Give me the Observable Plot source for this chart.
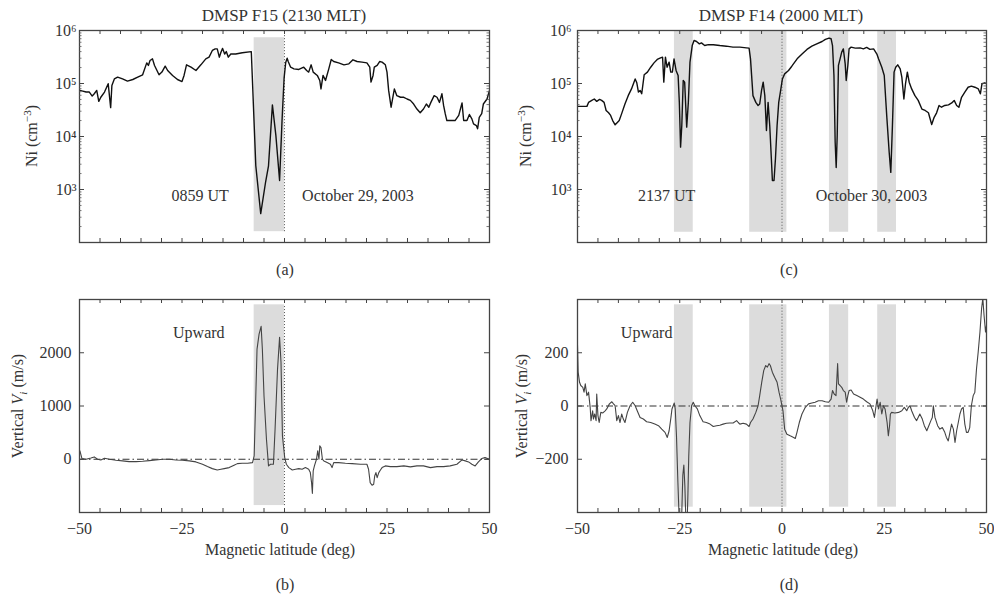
<!DOCTYPE html>
<html><head><meta charset="utf-8">
<script src="https://cdn.jsdelivr.net/npm/d3@7"></script>
<script src="https://cdn.jsdelivr.net/npm/@observablehq/plot@0.6"></script>
<style>
body{margin:0;background:#fff;}
#root{position:relative;width:994px;height:599px;font-family:"Liberation Serif","DejaVu Serif",serif;color:#333;overflow:hidden;}
.p{position:absolute;}
.t{position:absolute;white-space:nowrap;font-size:16px;transform:translate(-50%,-50%);line-height:1;}
.r{transform:translate(-50%,-50%) rotate(-90deg);}
.ttl{font-size:17px;}
sup,sub{font-size:70%;line-height:0;}
</style></head><body><div id="root"></div>
<script>
// ---------- DATA ----------
// Panel (a): DMSP F15 ion density, magnetic latitude (deg) vs Ni (cm^-3)
const latA = [-49.9,-49.2,-48.4,-47.6,-46.9,-46.4,-45.8,-45.3,-44.8,-43.9,-43.0,-42.4,-42.1,-41.5,-40.7,-39.5,-38.3,-37.0,-35.8,-34.6,-33.6,-33.2,-32.8,-32.2,-31.7,-30.6,-29.9,-29.1,-28.5,-27.3,-26.1,-25.0,-24.5,-23.9,-22.8,-21.6,-20.4,-19.2,-18.4,-17.6,-16.9,-16.4,-15.9,-15.5,-15.1,-14.6,-14.2,-13.7,-13.1,-11.9,-10.3,-8.1,-7.0,-5.8,-4.6,-3.9,-2.95,-2.1,-1.2,-0.6,-0.1,0.3,0.65,0.9,1.5,2.3,3.5,4.7,5.4,5.9,6.5,7.0,8.0,8.6,8.9,9.4,10.0,10.8,11.4,12.0,13.2,14.5,15.7,16.7,17.7,18.9,20.1,20.8,21.1,21.6,21.9,22.6,23.2,23.8,24.6,25.0,25.4,26.0,26.5,26.8,27.4,28.3,29.1,29.9,30.7,31.5,32.3,33.1,33.9,34.6,35.2,35.7,36.5,37.2,37.8,38.4,38.8,39.2,39.6,40.8,41.6,42.5,43.3,43.7,44.5,45.1,45.7,46.1,46.8,47.1,47.5,48.1,48.5,49.4,50.0];
const niA = [7.4e4,7.2e4,6.9e4,6.9e4,5.8e4,6.4e4,7.4e4,4.6e4,5.5e4,6.9e4,9.9e4,3.5e4,9.2e4,1.22e5,1.32e5,1.22e5,1.11e5,1.19e5,1.32e5,1.46e5,2.45e5,2.19e5,2.72e5,2.92e5,2.19e5,1.46e5,1.64e5,2.12e5,1.76e5,1.42e5,1.19e5,1.09e5,1.42e5,2.25e5,2.03e5,1.76e5,2.25e5,2.92e5,3.14e5,4.2e5,4.5e5,4.5e5,3.14e5,3.9e5,4.6e5,3.6e5,4.0e5,3.14e5,3.6e5,3.6e5,3.8e5,4.0e5,2.8e3,350,1.4e3,2.8e3,3.95e4,1.04e4,1.48e3,2.0e4,1.26e5,2.5e5,3.0e5,2.6e5,2.03e5,1.89e5,1.84e5,2.03e5,1.76e5,1.64e5,2.25e5,1.64e5,1.42e5,1.14e5,7.9e4,1.42e5,1.14e5,1.89e5,2.84e5,2.6e5,2.45e5,2.25e5,2.35e5,2.8e5,2.6e5,2.53e5,2.45e5,2.03e5,1.06e5,1.42e5,2.03e5,2.19e5,2.6e5,2.53e5,2.25e5,1.64e5,7.4e4,3.57e4,5.9e4,7.9e4,5.9e4,5.5e4,5.5e4,5.1e4,4.8e4,4.1e4,3.3e4,2.8e4,3.3e4,4.1e4,3.57e4,4.4e4,5.9e4,5.5e4,4.4e4,6.4e4,3.85e4,2.7e4,2.0e4,2.0e4,2.0e4,2.5e4,4.3e4,2.0e4,2.0e4,2.6e4,2.15e4,1.73e4,1.61e4,1.4e4,2.3e4,2.7e4,4.1e4,5.1e4,7.4e4];

// Panel (c): DMSP F14 ion density
const latC = [-50.0,-48.9,-47.7,-47.3,-46.5,-45.9,-45.3,-44.6,-44.1,-43.5,-43.0,-42.4,-41.9,-41.4,-40.8,-40.2,-39.8,-39.2,-38.4,-37.6,-36.8,-35.9,-35.5,-35.1,-34.7,-34.3,-33.7,-32.9,-32.1,-31.3,-30.5,-29.7,-29.2,-28.9,-28.5,-28.1,-27.6,-27.2,-26.8,-26.4,-25.9,-25.4,-25.1,-24.8,-24.5,-24.15,-23.8,-23.3,-22.9,-22.5,-21.95,-21.5,-20.9,-20.2,-19.7,-18.9,-18.0,-16.8,-15.2,-13.6,-12.0,-10.3,-8.7,-8.05,-7.7,-7.1,-6.4,-5.85,-5.45,-5.0,-4.6,-4.2,-3.8,-3.4,-3.0,-2.6,-2.35,-1.95,-1.6,-1.2,-0.8,-0.4,0.1,0.65,1.6,2.4,3.7,4.9,6.1,7.3,8.5,9.8,10.6,11.5,12.0,12.35,12.7,13.0,13.25,13.5,13.8,14.2,14.6,15.0,15.45,15.7,16.1,16.4,16.9,17.9,19.1,19.9,20.7,21.5,22.4,23.2,23.6,24.4,25.0,25.6,26.2,26.6,27.0,27.4,27.8,28.3,28.9,29.3,29.8,30.2,30.65,31.1,31.7,32.5,33.3,34.2,35.0,35.8,36.6,37.2,37.8,38.4,39.0,39.8,40.7,41.5,42.1,42.7,43.25,43.9,44.7,45.5,46.3,47.15,48.0,48.5,48.9,49.6,50.0];
const niC = [3.7e4,3.7e4,3.7e4,4.4e4,4.8e4,5.1e4,4.6e4,5.0e4,4.8e4,4.4e4,3.1e4,2.8e4,2.5e4,2.0e4,1.66e4,1.86e4,2.0e4,2.7e4,4.1e4,5.9e4,7.9e4,1.22e5,1.03e5,6.9e4,7.4e4,6.4e4,1.46e5,1.64e5,2.03e5,2.45e5,2.84e5,3.05e5,3.14e5,1.06e5,3.14e5,2.03e5,2.53e5,1.64e5,1.64e5,2.92e5,1.76e5,1.42e5,4.4e4,6.3e3,1.61e4,1.14e5,1.06e5,1.5e4,4.4e4,2.53e5,5.2e5,6.5e5,6.2e5,5.6e5,5.85e5,5.2e5,5.4e5,5.4e5,5.2e5,5.06e5,4.85e5,4.85e5,4.7e5,4.65e5,2.92e5,5.9e4,4.4e4,3.85e4,4.1e4,7.4e4,1.06e5,5.9e4,1.3e4,4.4e4,1.61e4,3.8e3,1.48e3,1.48e3,3.8e3,1.61e4,4.4e4,6.9e4,1.22e5,1.52e5,1.76e5,2.12e5,2.92e5,3.6e5,4.4e5,5.06e5,5.6e5,6.2e5,6.8e5,7.2e5,7.0e5,5.2e5,1.42e5,7.8e3,2.6e3,1.04e4,2.19e5,2.92e5,3.9e5,4.5e5,2.35e5,1.14e5,2.19e5,4.5e5,4.85e5,4.65e5,4.7e5,4.5e5,4.8e5,4.4e5,4.5e5,3.6e5,2.92e5,2.03e5,1.42e5,2.5e4,5.1e3,2.1e3,1.61e4,1.64e5,2.03e5,2.25e5,1.89e5,1.32e5,5.1e4,9.9e4,1.64e5,1.06e5,7.9e4,5.9e4,4.8e4,3.3e4,3.1e4,2.8e4,1.68e4,2.3e4,2.8e4,3.85e4,3.57e4,3.85e4,3.95e4,4.3e4,4.8e4,3.85e4,3.57e4,5.5e4,6.9e4,8.5e4,8.9e4,8.5e4,7.9e4,6.4e4,9.9e4,1.03e5,9.9e4];

// Panel (b): DMSP F15 vertical ion drift (m/s)
const latB = [-49.9,-49.4,-48.4,-47.2,-46.4,-45.6,-44.8,-43.9,-42.7,-41.1,-39.5,-37.9,-36.2,-34.6,-33.0,-31.4,-29.7,-28.1,-26.5,-24.9,-23.2,-21.6,-20.0,-18.8,-17.6,-16.4,-15.5,-14.7,-13.5,-12.3,-11.5,-10.3,-9.0,-7.8,-7.4,-7.0,-6.7,-6.2,-5.7,-5.4,-5.0,-4.4,-3.9,-3.4,-2.7,-2.3,-1.7,-1.2,-0.85,-0.5,0.05,0.45,1.06,1.9,2.7,3.5,4.3,5.1,5.9,6.3,6.6,6.8,7.0,7.3,7.8,8.1,8.4,8.6,8.9,9.25,9.6,10.4,11.2,11.6,12.0,13.2,14.85,16.5,18.5,20.1,20.5,20.9,21.35,21.75,22.0,22.3,22.6,23.0,23.4,23.8,24.6,25.8,27.4,29.1,30.7,32.3,33.9,35.6,37.2,38.8,40.4,42.05,43.3,44.1,44.9,45.7,46.5,47.3,48.1,48.9,49.9];
const vB = [157,13,0,25,44,0,-13,19,0,-19,-31,-44,-44,-38,-25,-13,0,0,-13,-19,-31,-50,-94,-138,-176,-201,-188,-176,-157,-113,-82,-75,-75,-63,63,1191,2069,2351,2495,2069,1191,376,-125,-94,-94,564,1693,2289,1818,439,31,-94,-157,-201,-188,-176,-188,-157,-188,-251,-439,-640,-219,-125,0,157,0,251,219,0,-31,-63,-94,-157,-63,-63,-75,-82,-94,-94,-188,-439,-489,-470,-314,-251,-345,-251,-201,-157,-125,-138,-138,-125,-144,-125,-125,-157,-138,-138,-125,-94,-13,-31,-50,-94,-125,-50,13,31,0];

// Panel (d): DMSP F14 vertical ion drift (m/s)
const latD = [-50.0,-49.84,-49.5,-49.2,-48.7,-48.4,-48.1,-47.7,-47.3,-46.9,-46.7,-46.3,-46.1,-45.8,-45.45,-45.3,-45.0,-44.7,-44.3,-43.8,-43.25,-42.85,-42.2,-41.6,-41.2,-40.8,-40.4,-40.0,-39.6,-39.2,-38.8,-38.4,-37.8,-37.15,-36.5,-35.9,-35.4,-34.7,-33.9,-33.1,-32.1,-31.1,-30.2,-29.4,-28.6,-28.05,-27.6,-27.15,-26.9,-26.6,-26.34,-26.1,-25.8,-25.45,-25.15,-24.8,-24.5,-24.25,-24.0,-23.75,-23.5,-23.25,-23.0,-22.8,-22.5,-22.1,-21.7,-21.3,-20.7,-20.1,-19.3,-18.5,-17.6,-16.8,-16.0,-15.2,-14.4,-13.6,-12.8,-11.95,-11.1,-10.7,-10.3,-9.5,-8.7,-8.05,-7.7,-7.1,-6.4,-5.85,-5.45,-4.96,-4.47,-3.98,-3.58,-3.17,-2.85,-2.36,-1.8,-1.2,-0.73,-0.33,0.24,0.65,1.2,2.0,2.85,3.25,3.66,4.23,4.88,5.7,6.5,7.3,8.1,8.9,9.8,10.6,11.4,12.0,12.35,12.75,13.2,13.6,13.8,14.2,14.6,15.0,15.45,15.8,16.1,16.4,16.9,17.5,18.3,19.1,19.9,20.7,21.5,22.2,22.6,23.0,23.25,23.6,24.0,24.4,24.8,25.2,25.7,26.0,26.3,26.5,26.8,27.6,28.5,29.3,29.9,30.5,30.9,31.3,31.7,32.4,32.9,33.7,34.3,34.8,35.4,35.9,36.4,36.75,37.0,37.4,38.05,38.6,39.2,39.8,40.2,40.65,41.06,41.46,41.9,42.3,42.7,43.1,43.5,43.9,44.3,44.7,45.1,45.5,45.9,46.3,46.75,47.15,47.56,47.97,48.4,48.8,49.1,49.4,49.76,50.0];
const vD = [228,127,89,77,70,52,83,39,52,-5,-55,-18,-49,-30,-55,45,-36,-62,-24,-26,-18,-11,8,16,8,1,-55,-36,-62,-30,-49,-62,-24,1,14,1,-18,-43,-49,-59,-62,-68,-74,-87,-99,-118,-93,-43,-11,1,11,-11,-112,-288,-420,-480,-400,-260,-222,-300,-430,-470,-330,-190,-62,1,14,1,-11,-36,-59,-62,-68,-77,-74,-72,-68,-65,-64,-64,-55,-62,-68,-65,-68,-77,-62,-49,-24,1,39,89,133,152,146,159,152,127,108,89,52,26,-18,-87,-106,-112,-118,-122,-99,-62,-30,-5,8,11,14,20,20,16,14,26,58,45,39,159,83,77,70,58,52,14,39,58,60,45,39,33,26,16,8,-18,-43,1,26,-11,14,-30,1,-11,-62,-112,-74,-30,-24,-26,-24,-18,-5,-18,-5,1,-18,-43,-55,-30,-49,-74,-93,-74,-55,-43,1,-43,-74,-87,-81,-99,-118,-131,-99,-68,-87,-137,-93,-62,-30,-11,-5,-68,-99,-99,-81,1,39,52,140,203,278,366,404,341,278,303];

// Shaded intervals (deg)
const shadeA = [{x1: -7.4, x2: 0}];
const shadeC = [{x1: -26.3, x2: -21.7}, {x1: -7.9, x2: 1.2}, {x1: 11.6, x2: 16.3}, {x1: 23.4, x2: 28.0}];

// Axis ticks and labels
const latMinorTicks = [-45,-40,-35,-30,-25,-20,-15,-10,-5,0,5,10,15,20,25,30,35,40,45];
const latLabelTicks = [-50,-25,0,25,50];
const niTicks = [1e3,1e4,1e5,1e6];
const niTickLabels = ["10³","10⁴","10⁵","10⁶"];
const niMinorTicks = [200,300,400,500,600,700,800,900,2e3,3e3,4e3,5e3,6e3,7e3,8e3,9e3,2e4,3e4,4e4,5e4,6e4,7e4,8e4,9e4,2e5,3e5,4e5,5e5,6e5,7e5,8e5,9e5];
const vTicksB = [0,1000,2000];
const vTicksD = [-200,0,200];

// Text
const titles = ["DMSP F15 (2130 MLT)", "DMSP F14 (2000 MLT)"];
const panelLetters = ["(a)", "(b)", "(c)", "(d)"];
const xLabel = "Magnetic latitude (deg)";
const annA = [{x: -20.6, y: 770, text: "0859 UT"}, {x: 17.9, y: 770, text: "October 29, 2003"}];
const annC = [{x: -28.2, y: 770, text: "2137 UT"}, {x: 21.9, y: 770, text: "October 30, 2003"}];
const annB = [{x: -20.9, y: 2377, text: "Upward"}];
const annD = [{x: -33.1, y: 274, text: "Upward"}];

// ---------- DRAWING ----------
const root = document.getElementById("root");
const minus = d => d < 0 ? "\u2212" + Math.abs(d) : String(d);
const FONT = '"Liberation Serif","DejaVu Serif",serif';

function panel(o) {
  const fw = o.width - o.ml - o.mr, fh = o.height - o.mt - o.mb;
  const data = o.xs.map((x, i) => ({x, y: o.ys[i]}));
  const marks = [
    Plot.rect(o.shades, {x1: "x1", x2: "x2", y1: () => o.shadeY[0], y2: () => o.shadeY[1], fill: "#dcdcdc"}),
    Plot.ruleX([0], {y1: o.dotY[0], y2: o.dotY[1], stroke: "#555", strokeWidth: 1, strokeDasharray: "1,2"}),
  ];
  if (o.zero) marks.push(Plot.ruleY([0], {stroke: "#333", strokeWidth: 1, strokeDasharray: "7,3,1.5,3"}));
  marks.push(
    Plot.line(data, {x: "x", y: "y", stroke: o.color, strokeWidth: o.lw, clip: true}),
    Plot.text(o.ann, {x: "x", y: "y", text: "text", fontSize: 16, fill: "#333", fontFamily: FONT}),
    // inward ticks
    Plot.ruleX(latMinorTicks, {insetTop: fh - 4, stroke: "#444"}),
    Plot.ruleX(latMinorTicks, {insetBottom: fh - 4, stroke: "#444"}),
    Plot.ruleY(o.yTicks, {insetRight: fw - 5, stroke: "#444"}),
    Plot.ruleY(o.yTicks, {insetLeft: fw - 5, stroke: "#444"}),
    Plot.frame({stroke: "#444", strokeWidth: 1.3}),
    Plot.axisY(o.yTicks, {anchor: "left", label: null, tickSize: 0, tickPadding: o.yPad, tickFormat: o.yFmt, fontSize: 16, fill: "#333"})
  );
  if (o.yMinor) {
    marks.push(Plot.ruleY(o.yMinor, {insetRight: fw - 2.5, stroke: "#555", strokeWidth: 0.8}));
    marks.push(Plot.ruleY(o.yMinor, {insetLeft: fw - 2.5, stroke: "#555", strokeWidth: 0.8}));
  }
  if (o.xLabels) marks.push(Plot.axisX(latLabelTicks, {anchor: "bottom", label: null, tickSize: 0, tickPadding: 10.5, tickFormat: minus, fontSize: 16, fill: "#333"}));
  const chart = Plot.plot({
    width: o.width, height: o.height,
    marginLeft: o.ml, marginRight: o.mr, marginTop: o.mt, marginBottom: o.mb,
    style: {fontFamily: FONT, fontSize: "16px", color: "#333", background: "transparent", overflow: "visible"},
    x: {domain: [-50, 50], axis: null, label: null},
    y: {type: o.yType, domain: o.yDomain, axis: null, label: null},
    marks
  });
  const div = document.createElement("div");
  div.className = "p";
  div.style.left = o.left + "px";
  div.style.top = o.top + "px";
  div.appendChild(chart);
  root.appendChild(div);
}

const niFmt = d => niTickLabels[niTicks.indexOf(d)];

panel({left: 0, top: 0, width: 497, height: 250, ml: 79, mr: 8, mt: 30, mb: 8,
  xs: latA, ys: niA, color: "#111", lw: 1.4, yType: "log", yDomain: [100, 1e6],
  shades: shadeA, shadeY: [160, 7.3e5], dotY: [160, 1e6], yTicks: niTicks, yMinor: niMinorTicks,
  yFmt: niFmt, yPad: 3, ann: annA, zero: false, xLabels: false});
panel({left: 497, top: 0, width: 497, height: 250, ml: 80, mr: 8, mt: 30, mb: 8,
  xs: latC, ys: niC, color: "#111", lw: 1.4, yType: "log", yDomain: [100, 1e6],
  shades: shadeC, shadeY: [156, 9.6e5], dotY: [156, 1e6], yTicks: niTicks, yMinor: niMinorTicks,
  yFmt: niFmt, yPad: 6, ann: annC, zero: false, xLabels: false});
panel({left: 0, top: 280, width: 497, height: 270, ml: 79, mr: 8, mt: 19, mb: 38,
  xs: latB, ys: vB, color: "#444", lw: 1.1, yType: "linear", yDomain: [-1000, 3000],
  shades: shadeA, shadeY: [-870, 2900], dotY: [-870, 2900], yTicks: vTicksB, yMinor: null,
  yFmt: minus, yPad: 8, ann: annB, zero: true, xLabels: true});
panel({left: 497, top: 280, width: 497, height: 270, ml: 80, mr: 8, mt: 19, mb: 38,
  xs: latD, ys: vD, color: "#444", lw: 1.1, yType: "linear", yDomain: [-400, 400],
  shades: shadeC, shadeY: [-380, 380], dotY: [-380, 380], yTicks: vTicksD, yMinor: null,
  yFmt: minus, yPad: 9, ann: annD, zero: true, xLabels: true});

// HTML text labels
function label(html, x, y, cls) {
  const el = document.createElement("div");
  el.className = "t" + (cls ? " " + cls : "");
  el.style.left = x + "px"; el.style.top = y + "px";
  el.innerHTML = html;
  root.appendChild(el);
}
label(titles[0], 284, 15, "ttl");
label(titles[1], 781, 15, "ttl");
label(panelLetters[0], 285, 270);
label(panelLetters[2], 789, 270);
label(panelLetters[1], 285, 585);
label(panelLetters[3], 789, 585);
label(xLabel, 280, 550);
label(xLabel, 783, 550);
label("Ni (cm<sup>\u22123</sup>)", 32, 136, "r");
label("Ni (cm<sup>\u22123</sup>)", 526, 136, "r");
label("Vertical <i>V<sub>i</sub></i> (m/s)", 18, 406, "r");
label("Vertical <i>V<sub>i</sub></i> (m/s)", 522, 406, "r");
</script></body></html>
